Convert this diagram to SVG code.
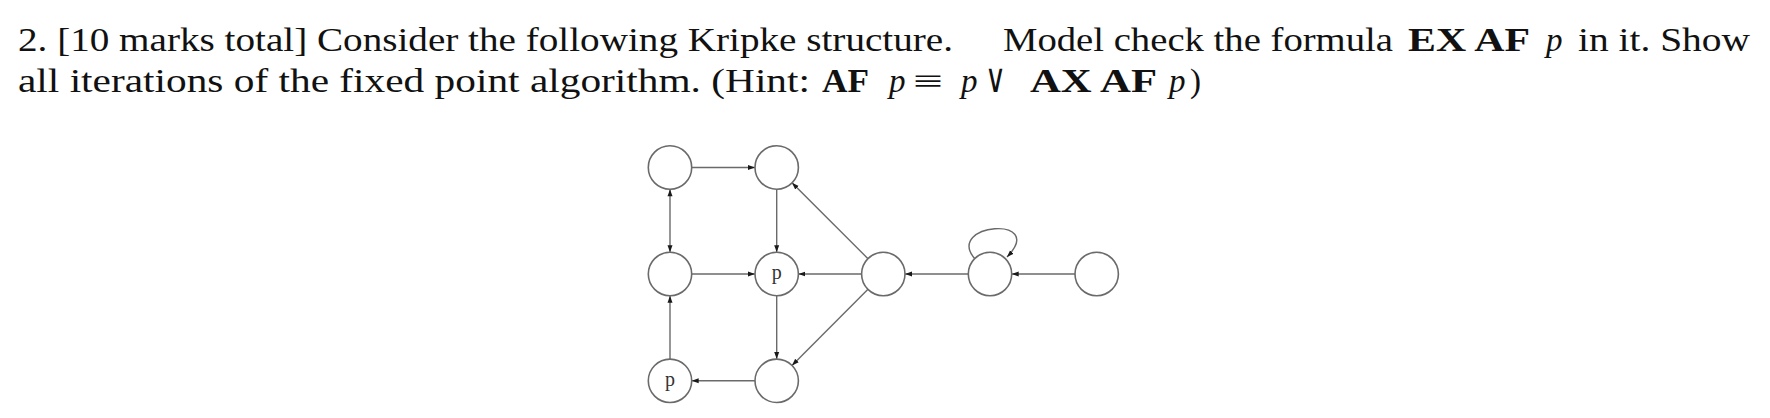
<svg xmlns="http://www.w3.org/2000/svg" width="1770" height="418" viewBox="0 0 1770 418">
<defs>
<style>
.t{font-family:"Liberation Serif","DejaVu Serif",serif;font-size:33px;fill:#111}
.b{font-weight:bold}
.i{font-style:italic}
.node{fill:#fff;stroke:#6a6a6a;stroke-width:1.6}
.lbl{font-family:"Liberation Serif","DejaVu Serif",serif;font-size:20px;fill:#333;text-anchor:middle}
.e{fill:none;stroke:#6a6a6a;stroke-width:1.4}
</style>
<marker id="ah" markerWidth="8" markerHeight="6" refX="7" refY="3" orient="auto" markerUnits="userSpaceOnUse">
<path d="M0,0.5 L7,3 L0,5.5 z" fill="#1a1a1a"/>
</marker>
<marker id="as" markerWidth="8" markerHeight="6" refX="0" refY="3" orient="auto" markerUnits="userSpaceOnUse">
<path d="M7,0.5 L0,3 L7,5.5 z" fill="#1a1a1a"/>
</marker>
</defs>
<rect width="1770" height="418" fill="#fff"/>
<g id="question">
<text class="t" x="18" y="51" textLength="935" lengthAdjust="spacingAndGlyphs">2. [10 marks total] Consider the following Kripke structure.</text>
<text class="t" x="1003" y="51" textLength="390" lengthAdjust="spacingAndGlyphs">Model check the formula</text>
<text class="t b" x="1408" y="51" textLength="122" lengthAdjust="spacingAndGlyphs">EX AF</text>
<text class="t i" x="1546" y="51">p</text>
<text class="t" x="1578" y="51" textLength="172" lengthAdjust="spacingAndGlyphs">in it. Show</text>
<text class="t" x="18" y="92" textLength="792" lengthAdjust="spacingAndGlyphs">all iterations of the fixed point algorithm. (Hint:</text>
<text class="t b" x="822" y="92" textLength="47" lengthAdjust="spacingAndGlyphs">AF</text>
<text class="t i" x="889" y="92">p</text>
<text class="t" x="913" y="92" textLength="30" lengthAdjust="spacingAndGlyphs">≡</text>
<text class="t i" x="961" y="92">p</text>
<text class="t" x="985" y="92" style="font-size:40px" textLength="21" lengthAdjust="spacingAndGlyphs">∨</text>
<text class="t b" x="1030" y="92" textLength="127" lengthAdjust="spacingAndGlyphs">AX AF</text>
<text class="t i" x="1169" y="92">p</text>
<text class="t" x="1190" y="92">)</text>
</g>
<g id="connectors">
<line class="e" x1="691.7" y1="167.5" x2="755" y2="167.5" marker-end="url(#ah)"/>
<line class="e" x1="670" y1="189.2" x2="670" y2="252.3" marker-start="url(#as)" marker-end="url(#ah)"/>
<line class="e" x1="776.7" y1="189.2" x2="776.7" y2="252.3" marker-end="url(#ah)"/>
<line class="e" x1="691.7" y1="274" x2="755" y2="274" marker-end="url(#ah)"/>
<line class="e" x1="861.6" y1="274" x2="798.4" y2="274" marker-end="url(#ah)"/>
<line class="e" x1="868" y1="258.7" x2="792" y2="182.8" marker-end="url(#ah)"/>
<line class="e" x1="868" y1="289.3" x2="792" y2="365.5" marker-end="url(#ah)"/>
<line class="e" x1="776.7" y1="295.7" x2="776.7" y2="359.1" marker-end="url(#ah)"/>
<line class="e" x1="755" y1="380.8" x2="691.7" y2="380.8" marker-end="url(#ah)"/>
<line class="e" x1="670" y1="359.1" x2="670" y2="295.7" marker-end="url(#ah)"/>
<line class="e" x1="968.3" y1="274" x2="905" y2="274" marker-end="url(#ah)"/>
<line class="e" x1="1075" y1="274" x2="1011.7" y2="274" marker-end="url(#ah)"/>
<path class="e" d="M975,259 C944,223 1048,215 1007,257" marker-end="url(#ah)"/>
</g>
<g id="s1"><circle class="node" cx="670" cy="167.5" r="21.7"/></g>
<g id="s2"><circle class="node" cx="776.7" cy="167.5" r="21.7"/></g>
<g id="s3"><circle class="node" cx="670" cy="274" r="21.7"/></g>
<g id="s4"><circle class="node" cx="776.7" cy="274" r="21.7"/><text class="lbl" x="776.7" y="279">p</text></g>
<g id="s5"><circle class="node" cx="883.3" cy="274" r="21.7"/></g>
<g id="s6"><circle class="node" cx="670" cy="380.8" r="21.7"/><text class="lbl" x="670" y="385.5">p</text></g>
<g id="s7"><circle class="node" cx="776.7" cy="380.8" r="21.7"/></g>
<g id="s8"><circle class="node" cx="990" cy="274" r="21.7"/></g>
<g id="s9"><circle class="node" cx="1096.7" cy="274" r="21.7"/></g>
</svg>
